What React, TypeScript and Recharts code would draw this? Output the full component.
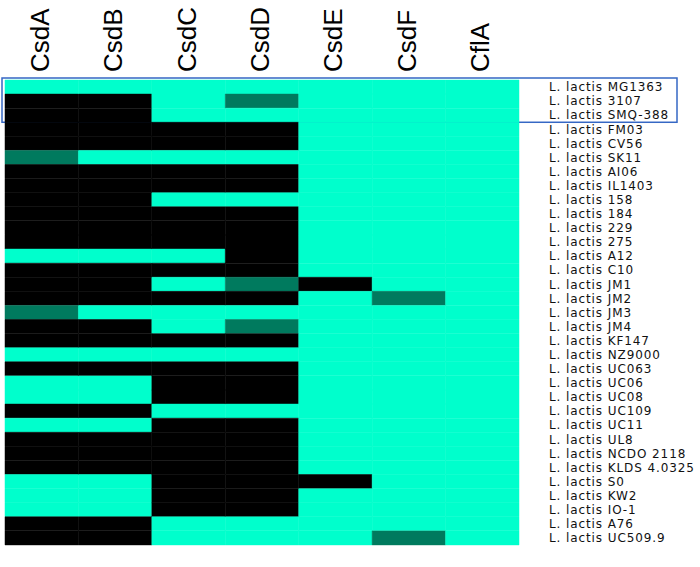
import { BarChart, Bar, Cell, XAxis, YAxis, ReferenceArea } from "recharts"

// gene columns
const genes = ["CsdA", "CsdB", "CsdC", "CsdD", "CsdE", "CsdF", "CflA"]

const strains = [
  "L. lactis MG1363", "L. lactis 3107", "L. lactis SMQ-388", "L. lactis FM03", "L. lactis CV56",
  "L. lactis SK11", "L. lactis AI06", "L. lactis IL1403", "L. lactis 158", "L. lactis 184",
  "L. lactis 229", "L. lactis 275", "L. lactis A12", "L. lactis C10", "L. lactis JM1",
  "L. lactis JM2", "L. lactis JM3", "L. lactis JM4", "L. lactis KF147", "L. lactis NZ9000",
  "L. lactis UC063", "L. lactis UC06", "L. lactis UC08", "L. lactis UC109", "L. lactis UC11",
  "L. lactis UL8", "L. lactis NCDO 2118", "L. lactis KLDS 4.0325", "L. lactis S0", "L. lactis KW2",
  "L. lactis IO-1", "L. lactis A76", "L. lactis UC509.9",
]

// 0 = present, 1 = absent, 2 = partial
const csdA = [0, 1, 1, 1, 1, 2, 1, 1, 1, 1, 1, 1, 0, 1, 1, 1, 2, 1, 1, 0, 1, 0, 0, 1, 0, 1, 1, 1, 0, 0, 0, 1, 1]
const csdB = [0, 1, 1, 1, 1, 0, 1, 1, 1, 1, 1, 1, 0, 1, 1, 1, 0, 1, 1, 0, 1, 0, 0, 1, 0, 1, 1, 1, 0, 0, 0, 1, 1]
const csdC = [0, 0, 0, 1, 1, 0, 1, 1, 0, 1, 1, 1, 0, 1, 0, 1, 0, 0, 1, 0, 1, 1, 1, 0, 1, 1, 1, 1, 1, 1, 1, 0, 0]
const csdD = [0, 2, 0, 1, 1, 0, 1, 1, 0, 1, 1, 1, 1, 1, 2, 1, 0, 2, 1, 0, 1, 1, 1, 0, 1, 1, 1, 1, 1, 1, 1, 0, 0]
const csdE = [0, 0, 0, 0, 0, 0, 0, 0, 0, 0, 0, 0, 0, 0, 1, 0, 0, 0, 0, 0, 0, 0, 0, 0, 0, 0, 0, 0, 1, 0, 0, 0, 0]
const csdF = [0, 0, 0, 0, 0, 0, 0, 0, 0, 0, 0, 0, 0, 0, 0, 2, 0, 0, 0, 0, 0, 0, 0, 0, 0, 0, 0, 0, 0, 0, 0, 0, 2]
const cflA = [0, 0, 0, 0, 0, 0, 0, 0, 0, 0, 0, 0, 0, 0, 0, 0, 0, 0, 0, 0, 0, 0, 0, 0, 0, 0, 0, 0, 0, 0, 0, 0, 0]

const states = [csdA, csdB, csdC, csdD, csdE, csdF, cflA]
const COLORS = ["#00ffcc", "#000000", "#007a5e"]

const data = strains.map((strain) => {
  const row: Record<string, string | number> = { strain }
  genes.forEach((g) => (row[g] = 1))
  return row
})

const GeneTick = (props: any) => {
  const { x, y, payload } = props
  const tx = x + 7
  return (
    <text
      x={tx}
      y={y}
      transform={`rotate(-90, ${tx}, ${y})`}
      textAnchor="start"
      fontFamily="'Liberation Sans', Arial, sans-serif"
      fontSize={26}
      fill="#000"
    >
      {genes[Math.floor(payload.value)]}
    </text>
  )
}

const BoxShape = (props: any) => {
  const { x, y, width, height } = props
  return (
    <rect
      x={x - 3}
      y={y - 2}
      width={width + 161}
      height={height + 2}
      fill="none"
      stroke="#3567c4"
      strokeWidth={1.5}
    />
  )
}

export default function App() {
  return (
    <div style={{ position: "absolute", left: 0, top: 0, background: "#fff" }}>
      <BarChart
        width={700}
        height={567}
        data={data}
        layout="vertical"
        margin={{ top: 0, right: 0, bottom: 22, left: 5 }}
        barCategoryGap={0}
        barGap={0}
      >
        <XAxis
          type="number"
          orientation="top"
          domain={[0, genes.length]}
          ticks={genes.map((_, i) => i + 0.5)}
          height={80}
          axisLine={false}
          tickLine={false}
          tickSize={0}
          tickMargin={8}
          interval={0}
          tick={<GeneTick />}
        />
        <YAxis
          type="category"
          dataKey="strain"
          orientation="right"
          width={181}
          axisLine={false}
          tickLine={false}
          tickSize={0}
          tickMargin={30}
          interval={0}
          tick={{
            fill: "#111",
            fontSize: 12,
            letterSpacing: 0.9,
            fontFamily: "'DejaVu Sans', sans-serif",
            textAnchor: "start",
          }}
        />
        {genes.map((g, gi) => (
          <Bar key={g} dataKey={g} stackId="cells" isAnimationActive={false}>
            {strains.map((s, si) => (
              <Cell
                key={`cell-${g}-${s}`}
                fill={COLORS[states[gi][si]]}
                stroke={COLORS[states[gi][si]]}
                strokeWidth={0.5}
              />
            ))}
          </Bar>
        ))}
        <ReferenceArea
          y1={strains[0]}
          y2={strains[2]}
          ifOverflow="visible"
          shape={<BoxShape />}
        />
      </BarChart>
    </div>
  )
}
